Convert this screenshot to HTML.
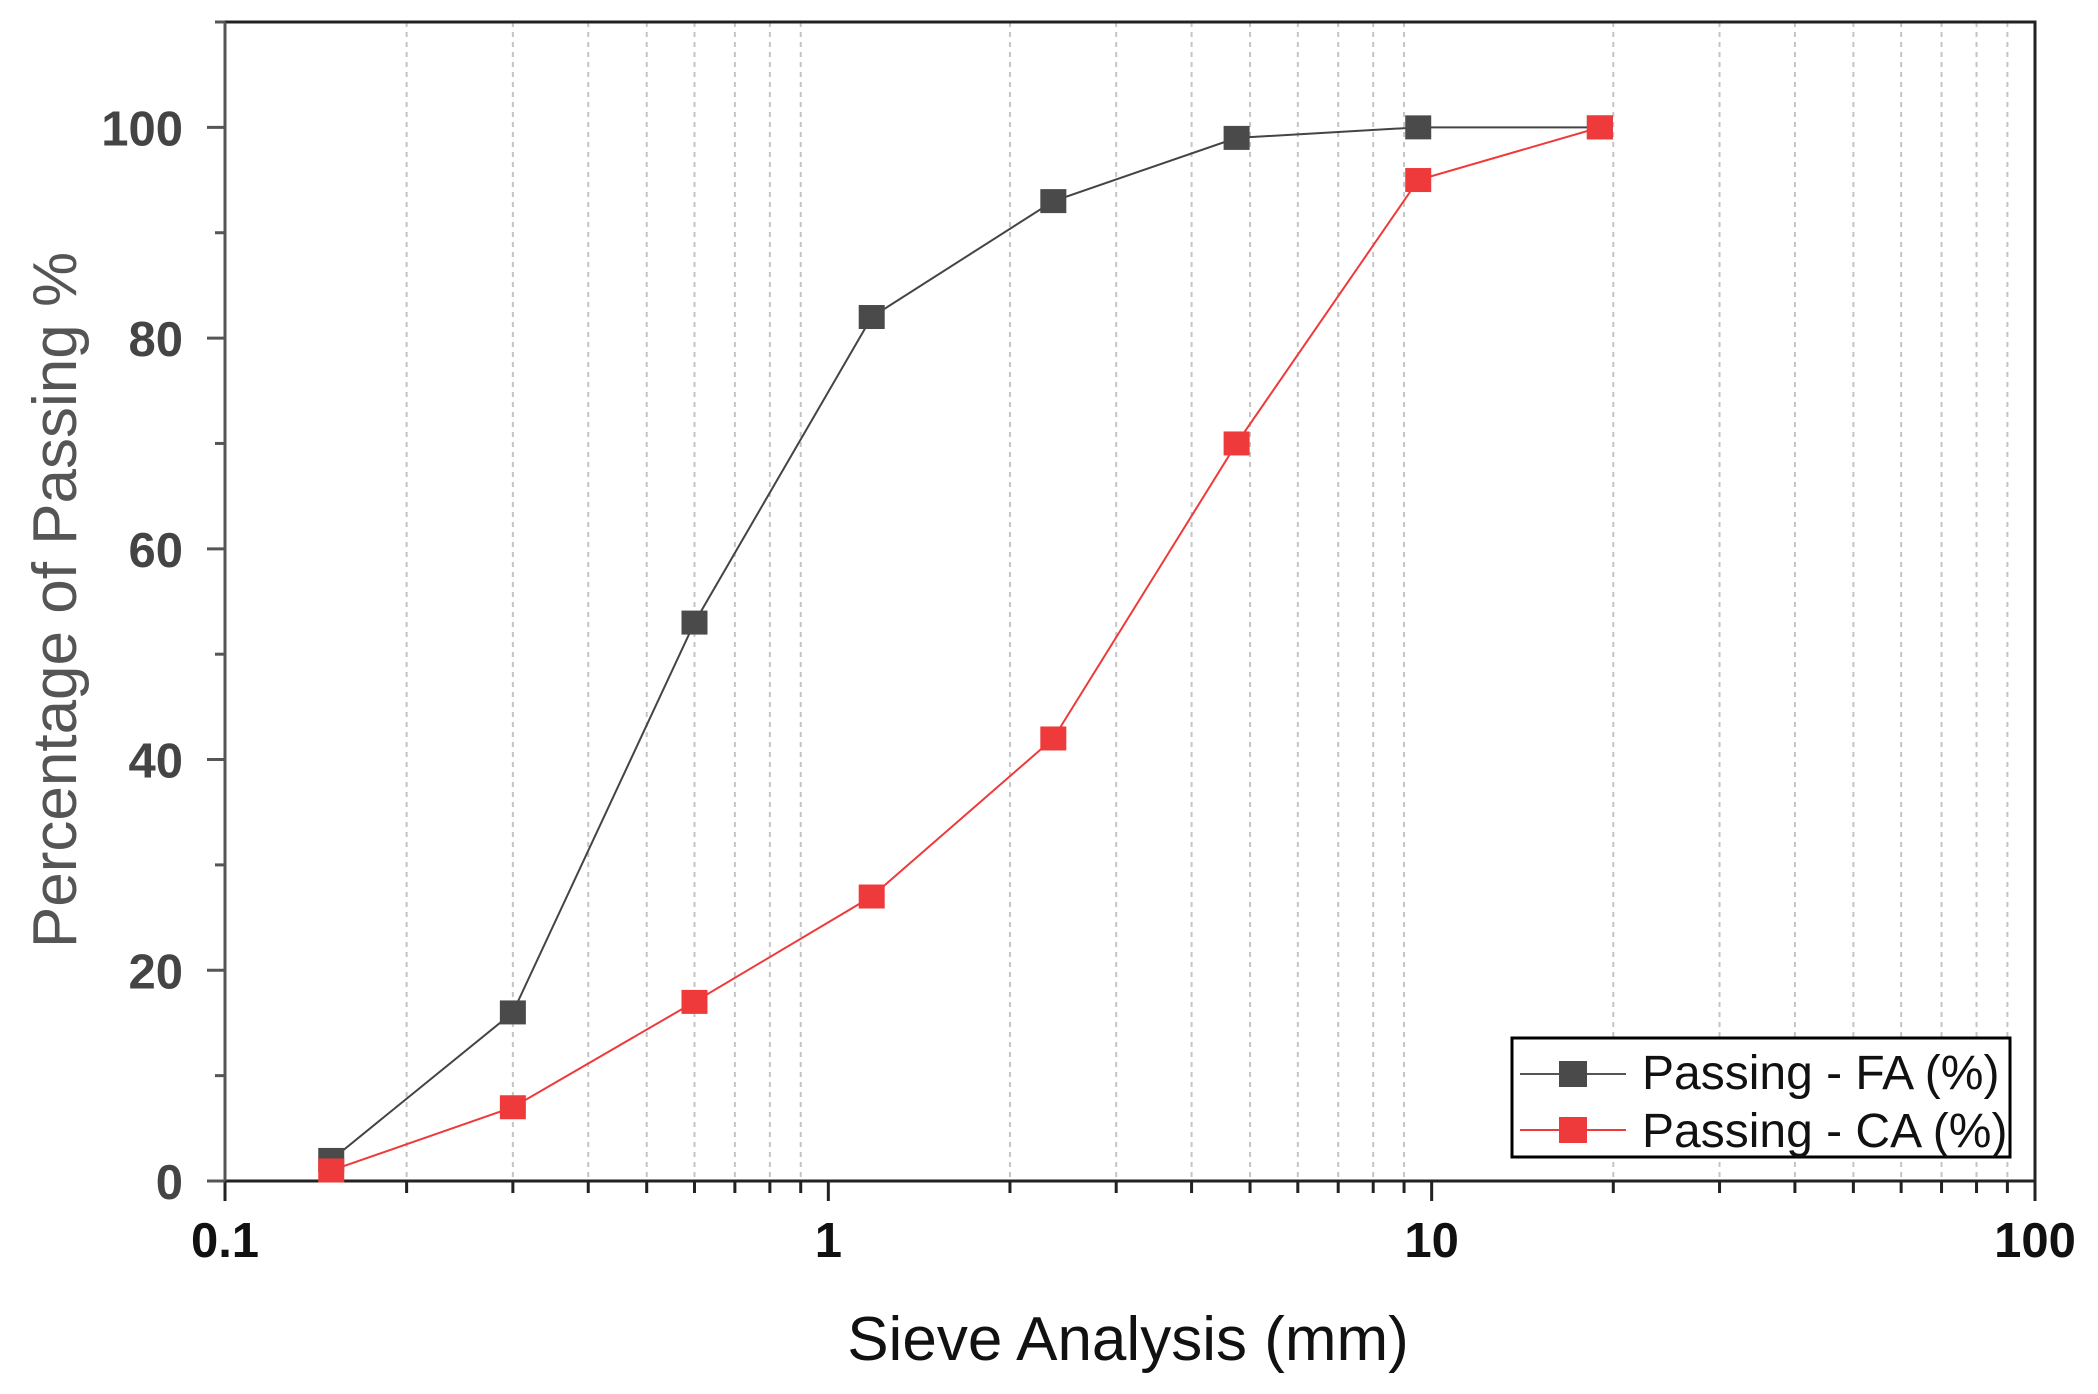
<!DOCTYPE html>
<html><head><meta charset="utf-8"><style>
html,body{margin:0;padding:0;background:#fff;}
svg{display:block;font-family:"Liberation Sans",Arial,sans-serif;}
</style></head><body>
<svg id="chart" width="2098" height="1394" viewBox="0 0 2098 1394" xmlns="http://www.w3.org/2000/svg">
<g id="grid"></g>
<g id="axes"></g>
<g id="series"></g>
<text x="1128" y="1360" font-size="62" fill="#111" text-anchor="middle">Sieve Analysis (mm)</text>
<text transform="translate(76,600) rotate(-90)" font-size="62" fill="#555" text-anchor="middle">Percentage of Passing %</text>
<g>
<rect x="1512" y="1038" width="498" height="119" fill="#fff" stroke="#000" stroke-width="3"/>
<g>
<line x1="1520" y1="1074" x2="1626" y2="1074" stroke="#555" stroke-width="2"/>
<rect x="1559" y="1061" width="28" height="26" fill="#4a4a4a"/>
<text x="1642" y="1089" font-size="48" fill="#111">Passing - FA (%)</text>
</g>
<g>
<line x1="1520" y1="1130" x2="1626" y2="1130" stroke="#ee3a3a" stroke-width="2"/>
<rect x="1559" y="1117" width="28" height="26" fill="#ee3a3a"/>
<text x="1642" y="1147" font-size="48" fill="#111">Passing - CA (%)</text>
</g>
</g>
<script>
const sieveSizes = [0.15, 0.3, 0.6, 1.18, 2.36, 4.75, 9.5, 19];
const passingFA = [2, 16, 53, 82, 93, 99, 100, 100];
const passingCA = [1, 7, 17, 27, 42, 70, 95, 100];
const xTickLabels = ["0.1", "1", "10", "100"];
const yTickLabels = ["0", "20", "40", "60", "80", "100"];

const L=225,R=2035,T=22,B=1181;
const xMin=0.1,xMax=100,yMin=0,yMax=110;
const NS="http://www.w3.org/2000/svg";
function xs(v){return L+(Math.log10(v)-Math.log10(xMin))/(Math.log10(xMax)-Math.log10(xMin))*(R-L);}
function ys(v){return B-(v-yMin)/(yMax-yMin)*(B-T);}
function mk(tag,attrs,parent,text){const e=document.createElementNS(NS,tag);for(const k in attrs)e.setAttribute(k,attrs[k]);if(text!==undefined)e.textContent=text;parent.appendChild(e);return e;}
const grid=document.getElementById('grid'),axes=document.getElementById('axes'),series=document.getElementById('series');

for(let d=-1;d<2;d++){for(let m=1;m<=9;m++){const v=m*Math.pow(10,d);const x=xs(v);
 if(m>1){const g=mk('line',{x1:x,y1:T,x2:x,y2:B,stroke:'#c4c4c4','stroke-width':2,'stroke-dasharray':'5,5'},grid);
 
 }
 const t=mk('line',{x1:x,y1:B,x2:x,y2:B+(m===1?20:12),stroke:'#222','stroke-width':3},axes);
 
 }}
const t100=mk('line',{x1:xs(100),y1:B,x2:xs(100),y2:B+20,stroke:'#222','stroke-width':3},axes);



mk('rect',{x:L,y:T,width:R-L,height:B-T,fill:'none',stroke:'#222','stroke-width':3},axes);
mk('line',{x1:L,y1:T,x2:L,y2:B,stroke:'#555','stroke-width':3},axes);

xTickLabels.forEach(s=>{const v=parseFloat(s);
 const t=mk('text',{x:xs(v),y:1257,'font-size':49,'font-weight':'bold','text-anchor':'middle',fill:'#111'},axes,s);
 
 });
for(let v=0;v<=110;v+=10){const y=ys(v);
 const t=mk('line',{x1:L-(v%20===0?18:10),y1:y,x2:L,y2:y,stroke:'#555','stroke-width':3},axes);
 
 }
yTickLabels.forEach(s=>{const v=parseFloat(s);
 const t=mk('text',{x:183,y:ys(v)+18,'font-size':49,'font-weight':'bold','text-anchor':'end',fill:'#444'},axes,s);
 
 });

function drawSeries(vals,color,lineColor,name){
 const pts=vals.map((v,i)=>xs(sieveSizes[i])+','+ys(v)).join(' ');
 const pl=mk('polyline',{points:pts,fill:'none',stroke:lineColor,'stroke-width':2},series);
 
 
 vals.forEach((v,i)=>{const r=mk('rect',{x:xs(sieveSizes[i])-13,y:ys(v)-12,width:26,height:24,fill:color},series);
 
 });}
drawSeries(passingFA,'#4a4a4a','#444','fa');
drawSeries(passingCA,'#ee3a3a','#ee3a3a','ca');
</script>
</svg>
</body></html>
